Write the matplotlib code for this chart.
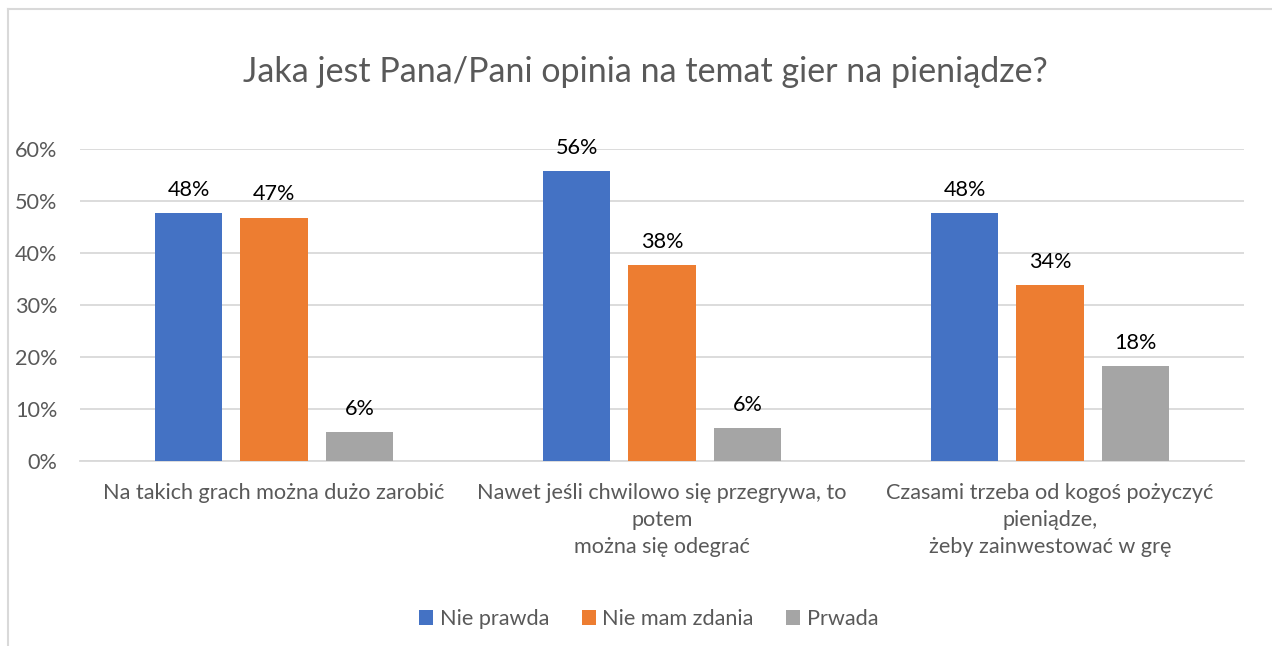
import matplotlib
matplotlib.use('Agg')
import matplotlib.pyplot as plt
import numpy as np
from matplotlib.ticker import FuncFormatter
from matplotlib.lines import Line2D

# data
categories = [
    "Na takich grach można dużo zarobić",
    "Nawet jeśli chwilowo się przegrywa, to\npotem\nmożna się odegrać",
    "Czasami trzeba od kogoś pożyczyć\npieniądze,\nżeby zainwestować w grę",
]
series_names = ["Nie prawda", "Nie mam zdania", "Prwada"]
nie_prawda = [0.477, 0.558, 0.477]
nie_mam_zdania = [0.468, 0.376, 0.339]
prawda = [0.055, 0.064, 0.183]
nie_prawda_labels = ["48%", "56%", "48%"]
nie_mam_zdania_labels = ["47%", "38%", "34%"]
prawda_labels = ["6%", "6%", "18%"]
yticks = [0, 0.1, 0.2, 0.3, 0.4, 0.5, 0.6]

colors = ['#4472C4', '#ED7D31', '#A5A5A5']
TEXT_GRAY = '#595959'
GRID = '#D9D9D9'
FS = 15.6

plt.rcParams['font.family'] = ['Lato', 'DejaVu Sans']

fig = plt.figure(figsize=(12.72, 6.46), dpi=100)
fig.patch.set_facecolor('white')

# thin frame of the chart area (only top and left visible in the crop)
fig.add_artist(Line2D([8 / 1272, 8 / 1272], [0, 1 - 9 / 646], transform=fig.transFigure,
                      color=GRID, linewidth=1.5))
fig.add_artist(Line2D([8 / 1272, 1], [1 - 9 / 646, 1 - 9 / 646], transform=fig.transFigure,
                      color=GRID, linewidth=1.5))

ax = fig.add_axes([80 / 1272, 1 - 461 / 646, 1164 / 1272, 312 / 646])

x = np.arange(len(categories))
width = 0.173
offset = 0.22
all_vals = [nie_prawda, nie_mam_zdania, prawda]
all_labels = [nie_prawda_labels, nie_mam_zdania_labels, prawda_labels]

for i, (vals, labs, name, col) in enumerate(zip(all_vals, all_labels, series_names, colors)):
    pos = x + (i - 1) * offset
    ax.bar(pos, vals, width=width, color=col, label=name, zorder=3)
    for px, v, lab in zip(pos, vals, labs):
        ax.annotate(lab, xy=(px, v), xytext=(0, 9.5), textcoords='offset points',
                    ha='center', va='bottom', fontsize=FS, color='#000000')

ax.set_xlim(-0.5, len(categories) - 0.5)
ax.set_ylim(0, 0.6)
ax.set_yticks(yticks)
ax.yaxis.set_major_formatter(FuncFormatter(lambda y, _: f'{y*100:.0f}%'))
ax.grid(axis='y', color=GRID, linewidth=1.3, zorder=0)
for s in ['top', 'right', 'left']:
    ax.spines[s].set_visible(False)
ax.spines['bottom'].set_color(GRID)
ax.spines['bottom'].set_linewidth(1.3)
ax.tick_params(axis='y', length=0, labelsize=FS, labelcolor=TEXT_GRAY, pad=16.5)
ax.tick_params(axis='x', length=0, labelsize=FS, labelcolor=TEXT_GRAY, pad=16)
ax.set_xticks(x)
ax.set_xticklabels(categories, linespacing=1.42)

fig.text(0.507, 1 - 72 / 646, "Jaka jest Pana/Pani opinia na temat gier na pieniądze?",
         ha='center', va='center', fontsize=24.5, color=TEXT_GRAY)

ax.legend(loc='center', bbox_to_anchor=(0.510, 1 - 619 / 646), bbox_transform=fig.transFigure,
          ncol=3, frameon=False, fontsize=FS, labelcolor=TEXT_GRAY,
          handlelength=0.65, handleheight=0.65, handletextpad=0.3, columnspacing=1.5)

plt.savefig('out.png', dpi=100, facecolor='white')
